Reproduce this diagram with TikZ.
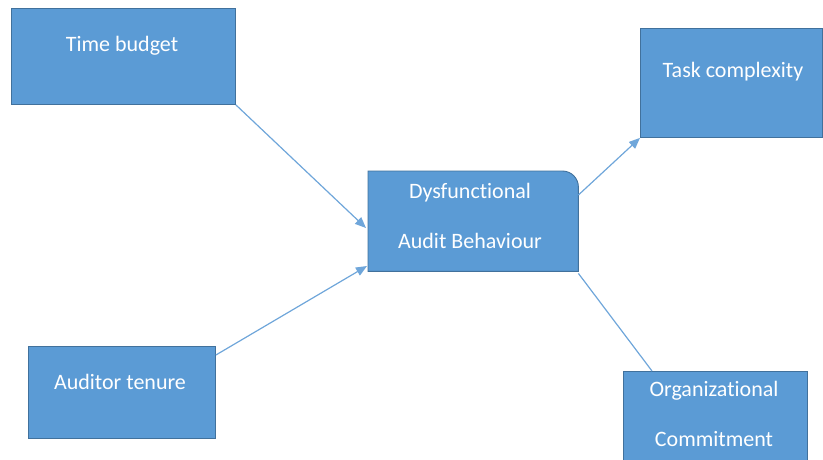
\documentclass[tikz,border=0pt]{standalone}
\usepackage{fontspec}
\setmainfont{Carlito}[Ligatures={NoCommon}]
\usetikzlibrary{arrows.meta}
\definecolor{boxfill}{HTML}{5B9BD5}
\definecolor{boxedge}{HTML}{41719C}
\definecolor{linkcol}{HTML}{6FA6DA}
\begin{document}
\begin{tikzpicture}[x=1pt,y=-1pt,
  box/.style={draw=boxedge,fill=boxfill,line width=0.9pt,rectangle,inner sep=0pt,anchor=north west},
  txt/.style={text=white,font=\fontsize{22}{26}\selectfont,inner sep=0pt},
  link/.style={draw=linkcol,line width=1.2pt},
  arr/.style={link,-{Triangle[length=11pt,width=9pt]}}]
\useasboundingbox (0,0) rectangle (823,459);
\clip (0,0) rectangle (823,459);
\node[box,minimum width=224pt,minimum height=96pt] (tb) at (11,8) {};
\node[txt] (tbt) at (122,46) {Time budget};
\node[box,minimum width=182pt,minimum height=109pt] (tc) at (640,28) {};
\node[txt] (tct) at (733,72) {Task complexity};
\node[box,minimum width=187pt,minimum height=92pt] (at) at (28,346) {};
\node[txt] (att) at (120,382) {Auditor tenure};
\node[box,minimum width=184pt,minimum height=100pt] (oc) at (623,371) {};
\node[txt] (oct1) at (714,391) {Organizational};
\node[txt] (oct2) at (714,439) {Commitment};
\node[rectangle,inner sep=0pt,minimum width=210pt,minimum height=100pt,anchor=north west] (dab) at (368,171) {};
\draw[draw=boxedge,fill=boxfill,line width=0.9pt] (dab.south west) -- (dab.north west) [rounded corners=16pt] -- (dab.north east) [sharp corners] -- (dab.south east) -- cycle;
\node[txt] (dabt1) at (470,193) {Dysfunctional};
\node[txt] (dabt2) at (470,241) {Audit Behaviour};
\coordinate (e1) at (366,228);
\coordinate (e2) at (367,266);
\draw[arr] (tb.south east) -- (e1);
\draw[arr] (at.north east) ++(0,9) -- (e2);
\draw[arr] ([yshift=-24pt]dab.north east) -- (tc.south west);
\draw[link] ([yshift=-2pt]dab.south east) -- ([xshift=29pt]oc.north west);
\end{tikzpicture}
\end{document}
